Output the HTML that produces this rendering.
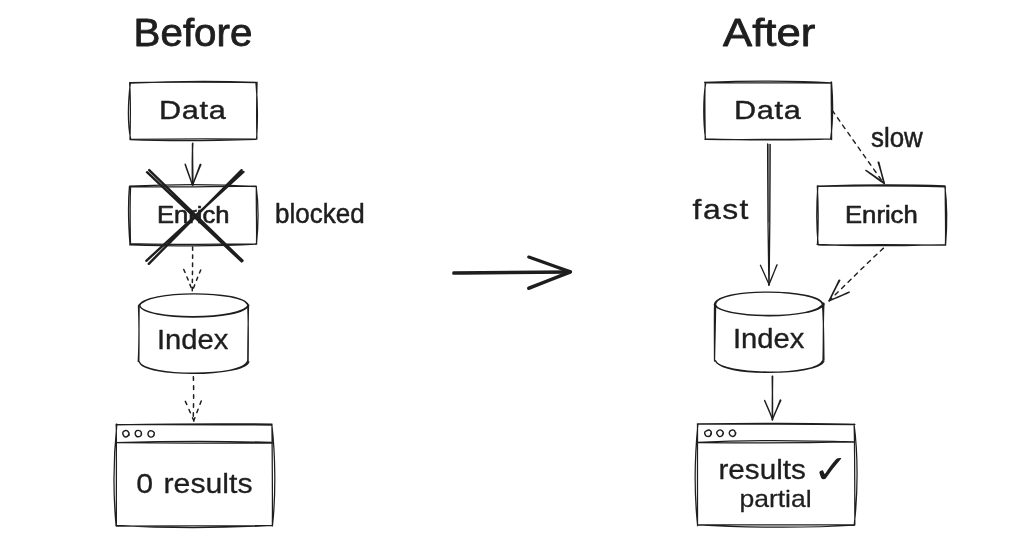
<!DOCTYPE html>
<html lang="en">
<head>
<meta charset="utf-8">
<title>Before / After</title>
<style>
html,body{margin:0;padding:0;background:#fff;}
body{width:1024px;height:559px;overflow:hidden;font-family:"Liberation Sans",sans-serif;}
svg{display:block;will-change:transform;}
</style>
</head>
<body>
<svg width="1024" height="559" viewBox="0 0 1024 559" role="img" aria-label="Before and after pipeline diagram">
<rect width="1024" height="559" fill="#ffffff"/>
<g fill="none" stroke="#1e1e1e" stroke-linecap="round" stroke-linejoin="round">
<path d="M130.15 82.51C167.74 82.21 218.72 82.1 255.78 82.71M129.99 83.16C167.34 81.27 217.91 80.79 255.87 82.31M257.07 82.07C256.58 100.28 256.51 122.11 256.9 138.91M255.95 82.81C257.5 99.11 257.73 122.69 256.59 139.02M256.65 139.1C218.58 138.59 167.37 138.79 129.84 139.32M256.04 139.3C218.44 140.65 168.4 141.21 130.14 139.73M129.99 139.56C130.42 121.95 130.77 99.12 129.61 82.68M130.63 138.94C127.32 122.49 128.34 99.75 130.37 82.83" stroke-width="1.25"/>
<path d="M192.46 143.64C192.58 156.84 192.63 170.9 193.04 184.97M192.82 143.08C192.05 157.04 192.15 170.63 192.49 185.17" stroke-width="1.4"/>
<path d="M185.21 164.2C187.71 171.08 190.05 178.03 192.4 184.91M185.26 164.79C187.4 171.44 190.15 177.91 192.42 184.93M200.29 164.29C197.84 171.08 195.29 177.99 192.59 185.07M200.86 164.65C197.96 171.08 195.44 178.14 192.61 185.09" stroke-width="1.4"/>
<path d="M129.54 186.89C168.6 187.12 218.57 186.56 256.09 186.09M129.4 186.21C167.67 184.36 218.5 184.21 256.14 186.51M256.35 186.49C256.04 204.53 256.86 226.6 256.51 243.87M256.12 186.14C258.79 204.7 258.25 227.07 256.48 244.07M256.74 243.91C219.18 243.93 167.41 245.03 130.16 243.74M256.37 244.21C218.76 246.4 168.59 246.01 129.63 244.78M130.54 245.08C130.15 227.48 129.86 203.62 130.59 187.13M129.9 243.74C128.68 227.43 127.85 204.03 129.44 186.39" stroke-width="1.25"/>
<path d="M192.59 246.96C192.74 261.25 192.39 275.4 192.25 290.94" stroke-width="1.5" stroke-dasharray="3.3 4.8"/>
<path d="M183.76 269.46C186.91 276.54 189.57 283.53 192.4 290.82M200.73 270.03C197.9 276.46 195.29 283.38 192.53 290.7" stroke-width="1.5" stroke-dasharray="3.3 4.8"/>
<path d="M139.58 306.05C144.38 289.68 243.36 290.19 247.57 304.7M138.54 305.95C145.04 289.27 243.17 290.6 248.35 305.06M139.18 304.71C143.77 321.52 242.89 320.81 248.79 305.19M139.69 305.82C144.09 320.37 242.32 320.35 248.24 304.91" stroke-width="1.25"/>
<path d="M138.44 306.04C139.27 324.24 139.12 342.83 138.84 361.52M139.16 305.34C138.81 323.43 139.37 342.16 138.23 361.49M248.51 305.4C248.18 324.13 247.78 342.51 247.79 361.63M247.7 305.79C248.62 324.25 248.33 342.56 248.11 361.71" stroke-width="1.25"/>
<path d="M139.11 361.62C144.86 376.99 242.7 377.03 248.81 361.92M139.7 362.31C144.17 377.16 243.36 377.61 247.52 360.99" stroke-width="1.25"/>
<path d="M193.37 376.74C193.91 391.78 193.53 406.28 193.17 421.37" stroke-width="1.5" stroke-dasharray="3.6 5.4"/>
<path d="M185.31 401.31C188.4 407.63 190.86 414.54 193.97 420.98M201.23 400.95C198.73 407.58 196.33 414.12 193.61 421.07" stroke-width="1.5" stroke-dasharray="3.6 5.4"/>
<path d="M116.52 424.61C163.22 424.54 225.05 424.43 271.86 425.09M115.94 424.88C163.46 424.01 225.13 423.3 272.07 424.23M271.95 425.02C272.22 455.34 272.62 495.13 272.37 525.9M271.87 425.04C275.36 454.49 275.95 495.3 272.43 526M272.25 525.54C225.11 526.06 162.74 526.06 116.45 526.13M271.91 525.36C225.3 528 163.2 528.11 115.95 525.4M116.4 525.38C116.21 495.18 116.66 454.72 116.25 424.12M116.09 525.67C113.22 494.89 113.7 454.98 116.83 424.21" stroke-width="1.25"/>
<path d="M116.31 442.71C163.43 443.05 225.53 443.37 272.45 443.09M116.32 442.58C163.04 441.37 225.7 441.21 271.94 442.4" stroke-width="1.25"/>
<path d="M128.94 433.84C128.78 434.19 128.57 435.36 127.97 435.9C127.37 436.44 126.08 437.13 125.35 437.08C124.62 437.03 124.01 436.32 123.58 435.6C123.15 434.88 122.63 433.55 122.77 432.75C122.91 431.95 123.72 431.17 124.42 430.82C125.12 430.48 126.23 430.35 126.97 430.69C127.71 431.04 128.52 432.13 128.87 432.89C129.22 433.66 129.05 434.87 129.09 435.27" stroke-width="1.45"/>
<path d="M141.55 433.98C141.37 434.32 141.13 435.54 140.5 436.01C139.88 436.49 138.58 436.89 137.8 436.8C137.02 436.72 136.27 436.15 135.84 435.5C135.41 434.85 135.07 433.71 135.22 432.91C135.37 432.11 136.05 431.08 136.75 430.71C137.45 430.33 138.68 430.39 139.43 430.66C140.18 430.93 140.94 431.59 141.24 432.33C141.53 433.07 141.19 434.62 141.19 435.08" stroke-width="1.45"/>
<path d="M154.25 433.72C154.09 434.13 153.85 435.63 153.27 436.19C152.68 436.76 151.56 437.24 150.73 437.1C149.9 436.97 148.71 436.13 148.29 435.39C147.86 434.66 147.96 433.44 148.19 432.69C148.42 431.95 149.06 431.23 149.68 430.93C150.3 430.64 151.14 430.63 151.9 430.93C152.66 431.22 153.91 431.94 154.25 432.69C154.59 433.44 153.99 434.97 153.94 435.43" stroke-width="1.45"/>
<path d="M147 172.2L241.7 261.5M149.2 170.1L242.5 260.7" stroke-width="2.4"/>
<path d="M241.6 170.2L148.8 263.8M243.4 171.9L146.3 260.8" stroke-width="2.4"/>
<path d="M705.43 82.96C742.36 82.53 793.35 82.97 831.32 83.05M704.49 82.3C743.12 81.17 792.96 80.24 830.65 82.97M831.19 81.8C831.28 99.69 831.38 122.44 831.62 139.55M831.53 82.15C832.94 99.56 833.16 121.58 830.6 138.87M831.19 139.04C793.66 138.79 743.2 139.87 704.97 139.46M830.71 138.86C793.71 140.7 743.06 139.94 705.34 138.93M705.24 139.47C705.09 121.51 704.38 99.19 705.25 82.21M705.55 138.78C703.16 122.14 703.09 98.98 705.67 83.11" stroke-width="1.25"/>
<path d="M768.9 144.5L768.9 222" stroke-width="1.6" stroke="#8a8a8a"/>
<path d="M767.6 144C767.7 170 767.8 200 768 222C768.3 245 768.7 265 768.9 285M770.2 144.3C770.1 170 770 200 769.8 222C769.5 245 769.2 265 769.1 285" stroke-width="1.3"/>
<path d="M760.58 265.39C763.34 271.63 766.32 278.17 769.28 284.97M760.39 265.21C763.46 271.74 766.25 278.33 769.27 284.78M777.14 264.79C774.31 271.46 771.65 278.03 768.71 284.7M776.79 265C774.41 271.36 771.83 278.2 768.7 285.15" stroke-width="1.25"/>
<path d="M832.29 110.37C849.25 134.7 866.24 158.68 884.09 183.8" stroke-width="1.4" stroke-dasharray="4.2 4.8"/>
<path d="M878.18 162.27C880.34 168.92 882.32 175.92 884.03 183.65M878.86 162.31C880.56 169.2 882.3 176.14 884.45 183.4M866.19 170.56C871.95 174.56 878.22 178.78 884.4 183.42M865.87 170.44C871.91 174.85 877.93 179 884.39 183.68" stroke-width="1.4"/>
<path d="M818.37 186.3C855.93 185.83 906.65 185.89 945.01 186.87M817.23 186.08C856.78 184.9 906.62 184.54 944.83 185.93M945.28 186.18C945.06 203.89 945.94 227.46 945.43 244.43M944.88 186.3C947.04 203.18 946.96 227.76 945.58 245.11M945.32 245.24C906.72 244.28 855.73 244.46 818.29 245.12M945.36 244.72C906.45 245.55 856.37 246.75 817.1 244.45M817.45 244.05C818.4 227.57 818.3 204.45 817.32 186.33M818.17 244.54C816.45 227.73 816.51 204 817.87 185.66" stroke-width="1.25"/>
<path d="M883.43 248.12C865.28 264.98 847.49 282.79 829.15 300.8" stroke-width="1.4" stroke-dasharray="4.2 4.8"/>
<path d="M839.06 280.22C835.91 287.13 832.39 293.87 829.07 300.91M839.77 280.32C835.87 286.97 832.73 294.01 829.31 300.98M849.02 292.2C842.58 295.19 836.12 297.92 829.14 300.94M849.27 292.14C842.81 295.26 835.96 297.95 829.15 300.76" stroke-width="1.4"/>
<path d="M715.55 303.5C720.73 287.64 817.33 288.48 822.87 304.52M714.79 303.3C719.78 287.93 818.04 288.78 822.63 303.63M714.34 304.56C719.65 318.82 817.08 319.36 823.84 304.41M715.17 304.6C720.91 319.26 817.28 320.23 823.59 303.05" stroke-width="1.25"/>
<path d="M714.58 303.57C714.17 322.31 714.48 341.63 714.5 359.9M715.64 303.27C715.52 322.45 714.82 341.2 714.54 361.08M823.96 303.25C822.92 322.43 823.62 341.46 822.96 361.21M822.36 303.01C823.94 322.87 823.58 341.02 823.96 360.06" stroke-width="1.25"/>
<path d="M715.53 360.69C719.84 376.58 817.49 375.87 822.41 360.91M715.47 360.71C720.93 375.47 817.35 376.19 823.93 361.23" stroke-width="1.25"/>
<path d="M772.25 376.23C772.4 390.71 772.68 404.97 772.49 419.93M772.61 376.13C772.5 390.35 772.21 404.94 772.32 419.36" stroke-width="1.4"/>
<path d="M764.65 400.43C767.7 407.11 770.17 413.04 772.54 419.36M764.68 400.8C767.42 406.92 770.04 413.19 772.67 419.46M780.78 400.33C777.75 406.58 775.14 413.02 772.2 419.77M780.3 400C777.93 406.51 775.21 413.15 772.22 419.81" stroke-width="1.4"/>
<path d="M698.19 423.9C744.72 424.03 807.7 424.45 854.37 424.62M697.32 423.99C745.05 423.38 806.93 422.76 854.87 424.38M854.16 424.58C854.83 454.44 854.77 494.88 854.85 524.81M854.04 424C858.23 454.69 857.85 494.8 854.15 525.3M854.58 524.89C807.54 524.9 744.22 525.03 697.51 524.9M854.3 525.25C807.69 528.18 744.27 527.73 697.84 524.79M697.51 525.65C697.36 495.13 697.61 454.35 697.51 424.37M697.56 524.9C694.36 494.85 694.86 455.07 697.93 424" stroke-width="1.25"/>
<path d="M697.62 442.51C744.31 442.92 807.33 442.86 854.37 441.93M697.37 442.3C744.32 440.24 807.5 440.53 854.3 442.2" stroke-width="1.25"/>
<path d="M710.99 433.07C710.84 433.53 710.73 435.31 710.13 435.86C709.53 436.41 708.13 436.47 707.36 436.37C706.6 436.27 705.98 435.98 705.54 435.28C705.1 434.58 704.51 432.95 704.72 432.18C704.93 431.41 706.07 431 706.81 430.63C707.55 430.26 708.43 429.72 709.17 429.96C709.91 430.19 710.95 431.24 711.27 432.05C711.58 432.86 711.08 434.35 711.05 434.81" stroke-width="1.45"/>
<path d="M723.39 433C723.21 433.4 722.93 434.84 722.29 435.43C721.65 436.03 720.33 436.69 719.54 436.58C718.75 436.48 718.02 435.51 717.55 434.81C717.08 434.1 716.56 433.1 716.73 432.34C716.9 431.59 717.85 430.66 718.56 430.28C719.26 429.9 720.19 429.73 720.95 430.07C721.72 430.42 722.88 431.57 723.15 432.35C723.41 433.14 722.63 434.37 722.53 434.78" stroke-width="1.45"/>
<path d="M735.85 432.92C735.68 433.33 735.44 434.79 734.82 435.37C734.2 435.95 732.97 436.49 732.16 436.4C731.34 436.32 730.4 435.54 729.93 434.88C729.46 434.22 729.17 433.19 729.35 432.45C729.53 431.71 730.29 430.82 731 430.44C731.72 430.07 732.94 429.9 733.65 430.19C734.35 430.48 734.95 431.45 735.22 432.19C735.5 432.92 735.29 434.18 735.3 434.58" stroke-width="1.45"/>
<path d="M453.71 272.58C492.03 272.42 530.61 272.15 570.17 271.79M453.6 273.42C492.16 273.22 530.62 272.68 570.35 272.23" stroke-width="2.9"/>
<path d="M528.73 257.07C542.64 261.89 556.28 266.74 570.08 272.21M528.8 257.07C542.55 262.03 556.03 266.87 570.55 271.8M528.6 288.44C542.4 282.9 556.33 277.46 570.16 272.19M528.8 288.09C542.38 282.95 556.23 277.59 570.02 271.81" stroke-width="3.2"/>
</g>
<g fill="#1e1e1e" stroke="#1e1e1e" stroke-width="0.35" stroke-linejoin="round">
<text transform="translate(133.60 46.20) scale(1.0343 1)" font-size="39.00" stroke-width="0.8" font-family='"Liberation Sans", sans-serif'>Before</text>
<text transform="translate(723.00 46.20) scale(1.1205 1)" font-size="39.00" stroke-width="0.8" font-family='"Liberation Sans", sans-serif'>After</text>
<text transform="translate(159.00 118.70) scale(1.1800 1)" font-size="26.00" letter-spacing="0.57" stroke-width="0.4" font-family='"Liberation Sans", sans-serif'>Data</text>
<text transform="translate(157.00 222.90) scale(1.1127 1)" font-size="23.00" stroke-width="0.6" font-family='"Liberation Sans", sans-serif'>Enrich</text>
<text transform="translate(275.00 223.20) scale(0.9126 1)" font-size="28.50" stroke-width="0.5" font-family='"Liberation Sans", sans-serif'>blocked</text>
<text transform="translate(157.00 349.40) scale(1.0813 1)" font-size="27.00" stroke-width="0.35" font-family='"Liberation Sans", sans-serif'>Index</text>
<text transform="translate(136.20 492.80) scale(1.0612 1)" font-size="28.50" stroke-width="0.3" word-spacing="2" font-family='"Liberation Sans", sans-serif'>0 results</text>
<text transform="translate(734.00 118.60) scale(1.1800 1)" font-size="26.00" letter-spacing="0.57" stroke-width="0.4" font-family='"Liberation Sans", sans-serif'>Data</text>
<text transform="translate(871.00 147.20) scale(0.9594 1)" font-size="27.00" stroke-width="0.5" font-family='"Liberation Sans", sans-serif'>slow</text>
<text transform="translate(692.60 219.00) scale(1.1800 1)" font-size="27.00" letter-spacing="1.28" stroke-width="0.35" font-family='"Liberation Sans", sans-serif'>fast</text>
<text transform="translate(845.00 222.80) scale(1.1158 1)" font-size="23.00" stroke-width="0.6" font-family='"Liberation Sans", sans-serif'>Enrich</text>
<text transform="translate(733.00 348.20) scale(1.0813 1)" font-size="27.00" stroke-width="0.35" font-family='"Liberation Sans", sans-serif'>Index</text>
<text transform="translate(718.40 479.30) scale(1.0619 1)" font-size="28.00" stroke-width="0.3" font-family='"Liberation Sans", sans-serif'>results <tspan x="89.20" y="4.14" font-size="39.77" stroke="none" font-family='"DejaVu Sans", "Liberation Sans", sans-serif'>✓</tspan></text>
<text transform="translate(739.40 507.30) scale(1.1049 1)" font-size="24.00" stroke-width="0.25" font-family='"Liberation Sans", sans-serif'>partial</text>
</g>
</svg>
</body>
</html>
